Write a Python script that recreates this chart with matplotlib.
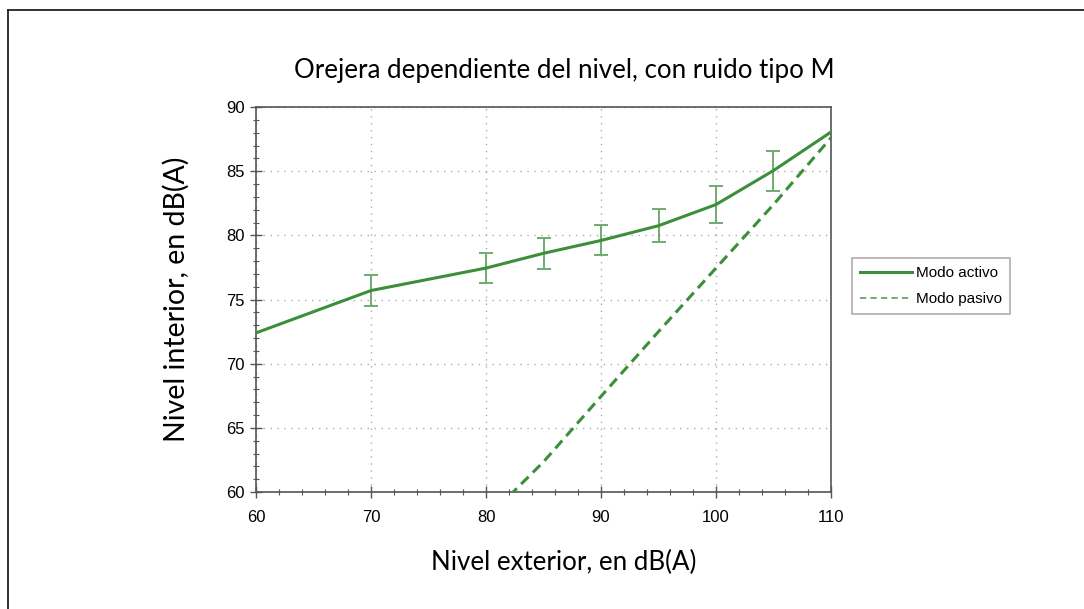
import matplotlib
matplotlib.use("Agg")
import matplotlib.pyplot as plt
from matplotlib.lines import Line2D
from matplotlib.ticker import MultipleLocator

# datos
nivel_ext = [60, 70, 80, 85, 90, 95, 100, 105, 110]
activo = [72.4, 75.7, 77.45, 78.6, 79.6, 80.75, 82.4, 85.05, 88.05]
err_x = [70, 80, 85, 90, 95, 100, 105]
err_y = [75.7, 77.45, 78.6, 79.6, 80.75, 82.4, 85.05]
err_val = [1.2, 1.17, 1.2, 1.17, 1.27, 1.43, 1.56]

pasivo_x = [80, 85, 90, 95, 100, 105, 110]
pasivo = [57.9, 62.35, 67.45, 72.5, 77.45, 82.4, 87.6]

verde = "#3b8f3b"
verde_claro = "#6fab6f"

fig = plt.figure(figsize=(10.84, 6.09), dpi=100)
ax = fig.add_axes([0.2362, 0.1921, 0.5304, 0.6322])

ax.plot(nivel_ext, activo, color=verde, lw=2.2, label="Modo activo", zorder=3)
ax.errorbar(err_x, err_y, yerr=err_val, fmt="none", ecolor=verde_claro,
            elinewidth=1.4, capsize=5, capthick=1.4, zorder=2)
ax.plot(pasivo_x, pasivo, color=verde, lw=2.2, ls=(0, (3.4, 2.0)),
        label="Modo pasivo", zorder=3)

ax.set_xlim(60, 110)
ax.set_ylim(60, 90)
ax.xaxis.set_major_locator(MultipleLocator(10))
ax.xaxis.set_minor_locator(MultipleLocator(2))
ax.yaxis.set_major_locator(MultipleLocator(5))
ax.yaxis.set_minor_locator(MultipleLocator(1))
ax.tick_params(which="major", direction="inout", length=8, width=1,
               color="#555555", labelsize=12, pad=4)
ax.tick_params(which="minor", direction="inout", length=4, width=0.8,
               color="#555555")
for lab in ax.get_xticklabels() + ax.get_yticklabels():
    lab.set_fontfamily("Liberation Sans")
ax.tick_params(axis="x", pad=9)

ax.grid(True, which="major", color="#aaaaaa", ls=(0, (1, 4)), lw=1)
for s in ax.spines.values():
    s.set_color("#555555")
    s.set_linewidth(1.2)

fig.text(0.5208, 0.885, "Orejera dependiente del nivel, con ruido tipo M",
         ha="center", va="center", fontsize=18.6, family="Lato")
ax.set_xlabel("Nivel exterior, en dB(A)", fontsize=18.6, family="Lato",
              labelpad=18)
ax.xaxis.label.set_x(0.5357)
ax.set_ylabel("Nivel interior, en dB(A)", fontsize=20.5, family="Lato",
              labelpad=26)

handles = [Line2D([], [], color=verde, lw=2.2),
           Line2D([], [], color=verde_claro, lw=1.4, ls=(0, (3.2, 2.2)))]
leg = fig.legend(handles, ["Modo activo", "Modo pasivo"],
                 loc="center left", bbox_to_anchor=(0.779, 0.53),
                 prop={"family": "Liberation Sans", "size": 11},
                 fancybox=False, edgecolor="#999999", handlelength=3.4,
                 handletextpad=0.3, borderpad=0.5, labelspacing=0.8)
leg.get_frame().set_linewidth(1.2)

# marco de la pagina (solo arriba e izquierda)
fig.add_artist(Line2D([8 / 1084, 8 / 1084], [0, 1 - 10 / 609],
                      transform=fig.transFigure, color="#222222", lw=1.3))
fig.add_artist(Line2D([8 / 1084, 1], [1 - 10 / 609, 1 - 10 / 609],
                      transform=fig.transFigure, color="#222222", lw=1.3))

fig.savefig("out.png", dpi=100)
